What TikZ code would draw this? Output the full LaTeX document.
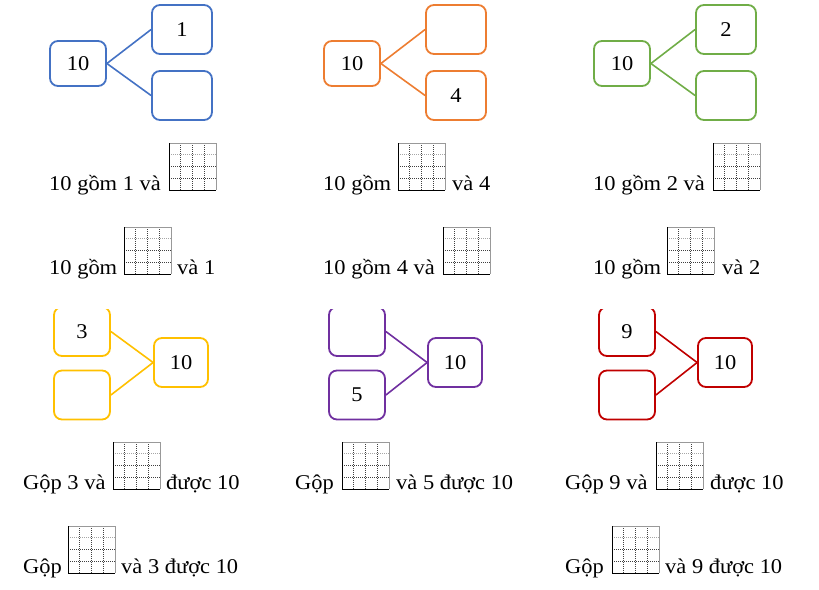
\documentclass[tikz,border=0pt]{standalone}
\usepackage{fontspec}
\setmainfont{Liberation Serif}[FakeStretch=1.07]
\definecolor{cblue}{HTML}{4472C4}
\definecolor{corange}{HTML}{ED7D31}
\definecolor{cgreen}{HTML}{70AD47}
\definecolor{cyellow}{HTML}{FFC000}
\definecolor{cpurple}{HTML}{7030A0}
\definecolor{cred}{HTML}{C00000}
\tikzset{
  so/.style={draw, line width=1.8pt, rounded corners=8pt, inner sep=0pt,
    minimum width=#1, minimum height=49pt},
  so/.default=60pt,
  noi/.style={line width=1.6pt},
  chu/.style={anchor=base west, inner sep=0pt},
  oly/.pic={
    \foreach \i in {1,2,3}
      \draw[black!75, line width=0.6pt, dash pattern=on 1pt off 1pt] (\i*11.75,0)--(\i*11.75,47);
    \draw[gray!70, line width=0.6pt, dash pattern=on 1pt off 1pt] (0,11.75)--(47,11.75);
    \draw[black!75, line width=0.6pt, dash pattern=on 1pt off 1pt] (0,23.5)--(47,23.5);
    \draw[black!75, line width=0.6pt, dash pattern=on 1pt off 1pt] (0,35.25)--(47,35.25);
    \draw[gray!80, line width=1pt] (0,0)--(47,0)--(47,47);
    \draw[black, line width=1pt] (0,0)--(0,47)--(47,47);
  }
}
\begin{document}
\begin{tikzpicture}[x=1pt, y=-1pt, font=\fontsize{21}{24}\selectfont]
    \useasboundingbox (0,0) rectangle (819,589);
    % tach 10
    \node [so=56pt, minimum height=45pt, draw=cblue] (a10) at (78,63.5) {10};
    \node [so, draw=cblue] (a1) at (182,29.5) {1};
    \node [so, draw=cblue] (a2) at (182,95.5) {};
    \draw [noi, cblue] (a10.east)--(a1.west);
    \draw [noi, cblue] (a10.east)--(a2.west);
    \node [so=56pt, minimum height=45pt, draw=corange] (b10) at (352,63.5) {10};
    \node [so, draw=corange] (b1) at (456,29.5) {};
    \node [so, draw=corange] (b2) at (456,95.5) {4};
    \draw [noi, corange] (b10.east)--(b1.west);
    \draw [noi, corange] (b10.east)--(b2.west);
    \node [so=56pt, minimum height=45pt, draw=cgreen] (c10) at (622,63.5) {10};
    \node [so, draw=cgreen] (c1) at (726,29.5) {2};
    \node [so, draw=cgreen] (c2) at (726,95.5) {};
    \draw [noi, cgreen] (c10.east)--(c1.west);
    \draw [noi, cgreen] (c10.east)--(c2.west);
    % gop 10
    \begin{scope}
    \clip (0,309) rectangle (819,589);
    \node [so=56pt, draw=cyellow] (d1) at (82,331.5) {3};
    \node [so=56pt, draw=cyellow] (d2) at (82,395) {};
    \node [so=54pt, draw=cyellow] (d10) at (181,362.5) {10};
    \draw [noi, cyellow] (d1.east)--(d10.west);
    \draw [noi, cyellow] (d2.east)--(d10.west);
    \node [so=56pt, draw=cpurple] (e1) at (357,331.5) {};
    \node [so=56pt, draw=cpurple] (e2) at (357,395) {5};
    \node [so=54pt, draw=cpurple] (e10) at (455,362.5) {10};
    \draw [noi, cpurple] (e1.east)--(e10.west);
    \draw [noi, cpurple] (e2.east)--(e10.west);
    \node [so=56pt, draw=cred] (f1) at (627,331.5) {9};
    \node [so=56pt, draw=cred] (f2) at (627,395) {};
    \node [so=54pt, draw=cred] (f10) at (725,362.5) {10};
    \draw [noi, cred] (f1.east)--(f10.west);
    \draw [noi, cred] (f2.east)--(f10.west);
    \end{scope}
    % cau dien so
    \node [chu] (ta1) at (49,190) {10 gồm 1 và};
    \pic at (169,143) {oly};
    \node [chu] (ta2) at (49,274) {10 gồm};
    \pic at (124,227) {oly};
    \node [chu] (ta3) at (177,274) {và 1};
    \node [chu] (tb1) at (323,190) {10 gồm};
    \pic at (398,143) {oly};
    \node [chu] (tb2) at (452,190) {và 4};
    \node [chu] (tb3) at (323,274) {10 gồm 4 và};
    \pic at (443,227) {oly};
    \node [chu] (tc1) at (593,190) {10 gồm 2 và};
    \pic at (713,143) {oly};
    \node [chu] (tc2) at (593,274) {10 gồm};
    \pic at (667,227) {oly};
    \node [chu] (tc3) at (722,274) {và 2};
    \node [chu] (td1) at (23,489) {Gộp 3 và};
    \pic at (113,442) {oly};
    \node [chu] (td2) at (166,489) {được 10};
    \node [chu] (td3) at (23,573) {Gộp};
    \pic at (68,526) {oly};
    \node [chu] (td4) at (121,573) {và 3 được 10};
    \node [chu] (te1) at (295,489) {Gộp};
    \pic at (342,442) {oly};
    \node [chu] (te2) at (396,489) {và 5 được 10};
    \node [chu] (tf1) at (565,489) {Gộp 9 và};
    \pic at (656,442) {oly};
    \node [chu] (tf2) at (710,489) {được 10};
    \node [chu] (tf3) at (565,573) {Gộp};
    \pic at (612,526) {oly};
    \node [chu] (tf4) at (665,573) {và 9 được 10};
\end{tikzpicture}
\end{document}
